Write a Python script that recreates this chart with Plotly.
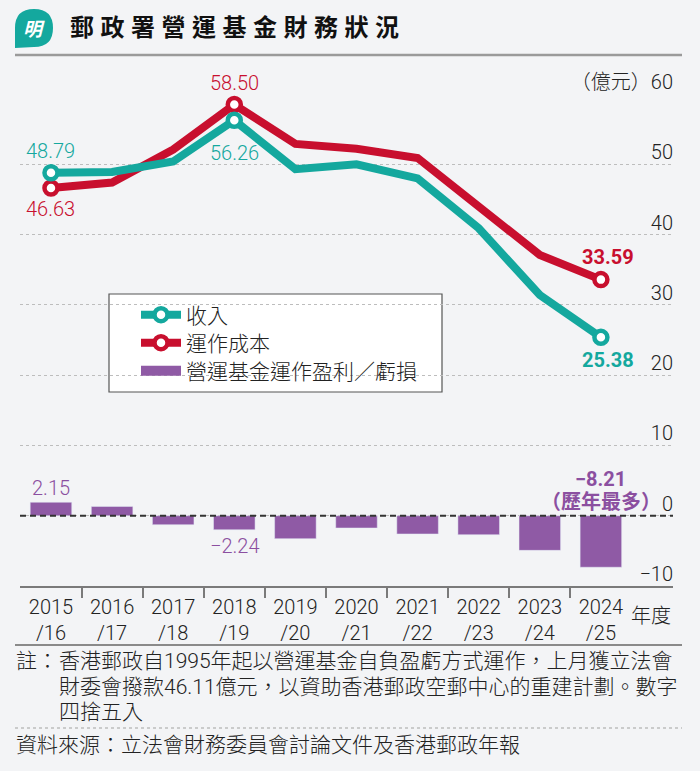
import numpy as np
import plotly.graph_objects as go

# data (HK$ 100 million)
years = ['2015<br>/16', '2016<br>/17', '2017<br>/18', '2018<br>/19', '2019<br>/20',
         '2020<br>/21', '2021<br>/22', '2022<br>/23', '2023<br>/24', '2024<br>/25']
revenue = [48.79, 48.9, 50.4, 56.26, 49.3, 50.0, 48.0, 40.9, 31.4, 25.38]
cost = [46.63, 47.4, 52.1, 58.50, 52.9, 52.2, 50.9, 44.0, 37.1, 33.59]
profit = [2.15, 1.48, -1.43, -2.24, -3.66, -1.96, -2.91, -3.03, -5.52, -8.21]
marked = [0, 3, 9]   # points with an open circle
ytick_vals = [-10, 0, 10, 20, 30, 40, 50, 60]
ytick_text = ['−10', '0', '10', '20', '30', '40', '50', '（億元）60']

TEAL = '#14a89e'
RED = '#c80f2e'
PURPLE = '#8f5aa5'
PURPLE_TXT = '#8b4fa0'
BG = '#f3f4f6'
INK = '#222222'
FONT = "Roboto, 'Noto Sans CJK TC', sans-serif"

W, H = 700, 771
L, R, T, B = 20, 673, 94, 586
xs = np.arange(len(years))


def px(x):
    return (x - L) / (R - L)


def py(y):
    return (B - y) / (B - T)


def fmt(v):
    return f'{v:.2f}'.replace('-', '−')


fig = go.Figure()

# bars sit on a slightly compressed scale in the original
fig.add_trace(go.Bar(x=xs, y=profit, yaxis='y2', marker_color=PURPLE, width=0.68,
                     showlegend=False, hoverinfo='skip'))

for name, vals, col, lg in [('運作成本', cost, RED, 'legend2'), ('收入', revenue, TEAL, 'legend')]:
    fill = ['white' if i in marked else 'rgba(0,0,0,0)' for i in range(len(vals))]
    edge = [col if i in marked else 'rgba(0,0,0,0)' for i in range(len(vals))]
    fig.add_trace(go.Scatter(x=xs, y=vals, name=name, mode='lines+markers', legend=lg,
                             line=dict(color=col, width=8),
                             marker=dict(size=13, color=fill, line=dict(width=4.5, color=edge)),
                             cliponaxis=False))

# legend entry for the bars
fig.add_trace(go.Scatter(x=[None], y=[None], mode='lines', name='營運基金運作盈利／虧損',
                         legend='legend3', line=dict(color=PURPLE, width=19)))

ann = []


def label(x, y, text, color, yref='y', xshift=0, yshift=0, bold=False):
    ann.append(dict(x=x, y=y, xref='x', yref=yref, text=f'<b>{text}</b>' if bold else text,
                    showarrow=False, xshift=xshift, yshift=yshift,
                    font=dict(size=20, color=color, family=FONT,
                              weight=700 if bold else 300)))


label(0, revenue[0], fmt(revenue[0]), TEAL, yshift=22)
label(0, cost[0], fmt(cost[0]), RED, yshift=-21)
label(3, cost[3], fmt(cost[3]), RED, yshift=22)
label(3, revenue[3], fmt(revenue[3]), TEAL, yshift=-33)
label(9, cost[9], fmt(cost[9]), RED, xshift=7, yshift=23, bold=True)
label(9, revenue[9], fmt(revenue[9]), TEAL, xshift=7, yshift=-23, bold=True)
label(0, profit[0], fmt(profit[0]), PURPLE_TXT, yref='y2', yshift=14)
label(3, profit[3], fmt(profit[3]), PURPLE_TXT, yref='y2', yshift=-16)
label(9, 0, fmt(profit[9]), PURPLE_TXT, yref='y2', yshift=37, bold=True)
label(9, 0, '（歷年最多）', PURPLE_TXT, yref='y2', yshift=14, bold=True)

# header, notes
ann.append(dict(xref='paper', yref='paper', x=px(68), y=py(28), xanchor='left', yanchor='middle',
                text='<b><span style="letter-spacing:6.5px">郵政署營運基金財務狀況</span></b>',
                showarrow=False, font=dict(size=24, color='#111111', family=FONT)))
ann.append(dict(xref='paper', yref='paper', x=px(34), y=py(29), xanchor='center', yanchor='middle',
                text='<b><i>明</i></b>', showarrow=False,
                font=dict(size=19, color='white', family=FONT)))
ann.append(dict(xref='paper', yref='paper', x=px(673), y=py(616), xanchor='right', yanchor='middle',
                text='年度', showarrow=False, font=dict(size=20, color=INK, family=FONT, weight=300)))
note_font = dict(size=21, color=INK, family=FONT, weight=300)
ann.append(dict(xref='paper', yref='paper', x=px(14), y=py(661), xanchor='left', yanchor='middle',
                text='註：', showarrow=False, font=note_font))
for yy, line in [(661, '香港郵政自1995年起以營運基金自負盈虧方式運作，上月獲立法會'),
                 (687, '財委會撥款46.11億元，以資助香港郵政空郵中心的重建計劃。數字'),
                 (712, '四捨五入')]:
    ann.append(dict(xref='paper', yref='paper', x=px(57), y=py(yy), xanchor='left',
                    yanchor='middle', text=line, showarrow=False, font=note_font))
ann.append(dict(xref='paper', yref='paper', x=px(14), y=py(745), xanchor='left', yanchor='middle',
                text='資料來源：立法會財務委員會討論文件及香港郵政年報', showarrow=False,
                font=note_font))

logo_path = (f'M{px(15)},{py(48)} L{px(15)},{py(28)} Q{px(15)},{py(9)} {px(34)},{py(9)} '
             f'Q{px(53)},{py(9)} {px(53)},{py(28)} Q{px(53)},{py(47)} {px(34)},{py(47)} Z')

shapes = [
    dict(type='path', xref='paper', yref='paper', path=logo_path, fillcolor=TEAL, line_width=0,
         layer='below'),
    dict(type='line', xref='paper', yref='paper', x0=px(15), x1=px(682), y0=py(55), y1=py(55),
         line=dict(color='#9a9a9a', width=2.5)),
    dict(type='line', xref='paper', yref='paper', x0=px(15), x1=px(682), y0=py(645), y1=py(645),
         line=dict(color='#8a8a8a', width=2)),
    dict(type='line', xref='paper', yref='paper', x0=px(15), x1=px(682), y0=py(728), y1=py(728),
         line=dict(color='#bdbdbd', width=1.5, dash='dot')),
    dict(type='line', xref='paper', yref='y', x0=0, x1=1, y0=0, y1=0,
         line=dict(color='#333333', width=2, dash='6px,4px')),
    dict(type='rect', xref='paper', yref='paper', x0=px(109), x1=px(442), y0=py(392), y1=py(294),
         fillcolor='white', line=dict(color='#555555', width=1.2), layer='between'),
]

leg = dict(x=px(136), xanchor='left', yanchor='middle', bgcolor='rgba(0,0,0,0)',
           borderwidth=0, itemwidth=40, font=dict(size=21, color=INK, family=FONT, weight=300))

fig.update_layout(
    width=W, height=H,
    margin=dict(l=L, r=W - R, t=T, b=H - B, autoexpand=False),
    paper_bgcolor=BG, plot_bgcolor=BG,
    font=dict(family=FONT, color=INK, size=20),
    bargap=0.3,
    showlegend=True,
    legend=dict(leg, y=py(315)),
    legend2=dict(leg, y=py(343)),
    legend3=dict(leg, y=py(371)),
    xaxis=dict(range=[-0.507, 10.18], tickmode='array', tickvals=xs, ticktext=years,
               ticks='', showgrid=False, zeroline=False, showline=True, linecolor='#7a7a7a',
               linewidth=1.5, tickfont=dict(size=20, color=INK, weight=300), ticklabelstandoff=2,
               automargin=False,
               minor=dict(tickmode='array', tickvals=xs[:-1] + 0.5, ticks='outside',
                          ticklen=10, tickwidth=1.5, tickcolor='#7a7a7a', showgrid=False)),
    yaxis=dict(range=[-10, 60], tickmode='array', tickvals=ytick_vals, ticktext=ytick_text,
               side='right', ticklabelposition='inside', ticks='', ticklabelshift=-12,
               ticklabelstandoff=-3, ticklabeloverflow='allow',
               showgrid=True, gridcolor='#bdbdbd', gridwidth=1, griddash='dot',
               zeroline=False, automargin=False, tickfont=dict(size=20, color=INK, weight=300)),
    yaxis2=dict(range=[-10 * 1.12, 60 * 1.12], overlaying='y', visible=False),
    annotations=ann,
    shapes=shapes,
)

# the page's default body margin would push the figure 8px off the window
fig.write_html('out.html', config={'displayModeBar': False},
               post_script="document.body.style.margin='0';")
